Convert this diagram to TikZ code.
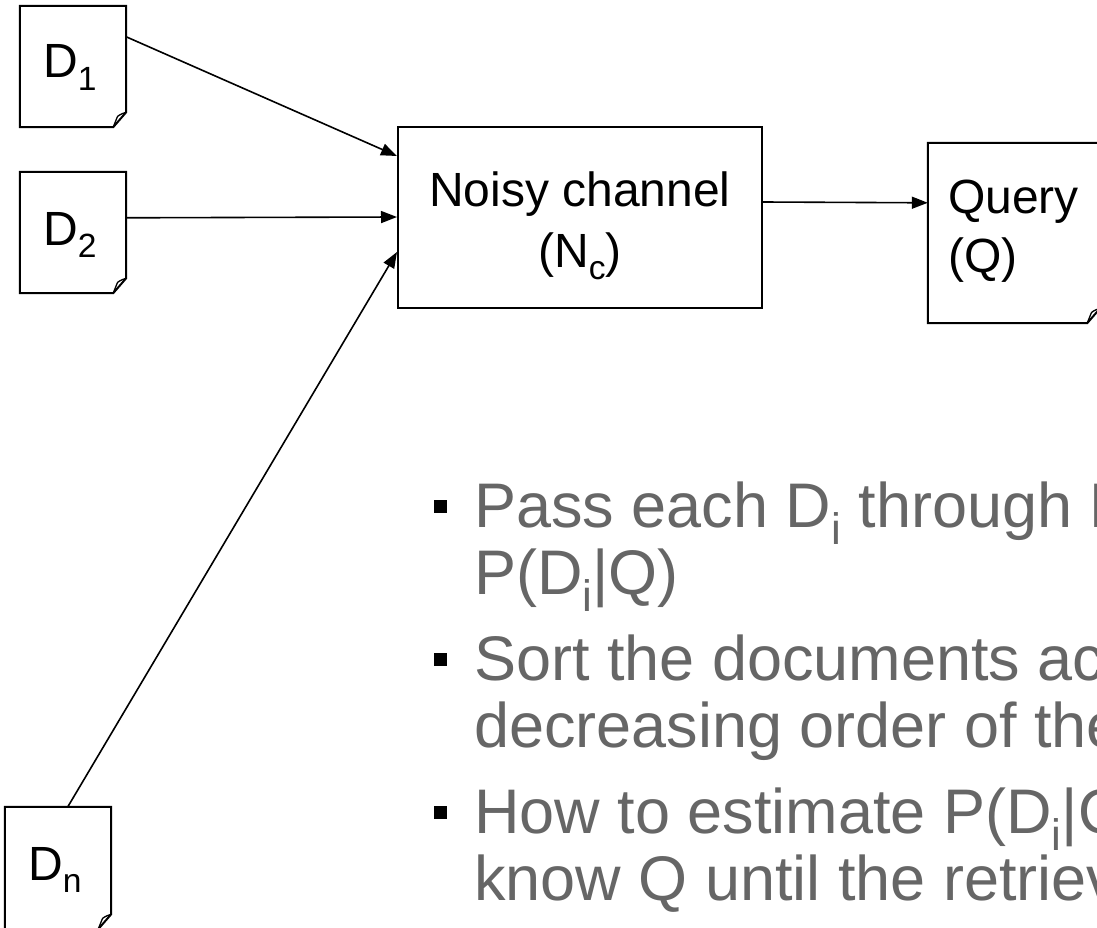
\documentclass[tikz,border=0pt]{standalone}
\usepackage{fontspec}
\setmainfont{Liberation Sans}
\usetikzlibrary{arrows.meta,calc}
\definecolor{txtgray}{RGB}{102,102,102}
% lowered, smaller index text (D_1, N_c, ...)
\newcommand{\lowidx}[1]{\raisebox{-0.27em}{\scalebox{0.7}{#1}}}
% outline of a sheet with a folded bottom-right corner, drawn round a node
\newcommand{\docoutline}[1]{%
  \draw[line width=2pt, line join=miter]
    (#1.north west) -- (#1.north east) -- ($(#1.south east)+(0,-15)$)
    -- ($(#1.south east)+(-13,0)$) -- (#1.south west) -- cycle;
  \draw[line width=1.3pt, line join=round]
    ($(#1.south east)+(0,-15)$) .. controls ($(#1.south east)+(-6,-13)$) and ($(#1.south east)+(-9,-11)$) .. ($(#1.south east)+(-9,-10)$)
    -- ($(#1.south east)+(-13,0)$);}
\begin{document}
\begin{tikzpicture}[x=1pt, y=-1pt,
  doc/.style={minimum width=106pt, minimum height=121pt, inner sep=0pt},
  lbl/.style={font=\fontsize{48}{58}\selectfont, inner sep=0pt, anchor=base west},
  clbl/.style={font=\fontsize{48}{58}\selectfont, inner sep=0pt, anchor=base},
  chan/.style={draw, line width=2pt, minimum width=364pt, minimum height=181pt, inner sep=0pt},
  link/.style={line width=1.6pt, -{Triangle[length=16pt,width=12pt]}},
  pt/.style={font=\fontsize{63}{67}\selectfont, text=txtgray, inner sep=0pt, anchor=base west},
  bul/.style={fill=black, minimum size=13pt, inner sep=0pt}]
\useasboundingbox (0,0) rectangle (1097,928);
\clip (0,0) rectangle (1097,928);
\fill[white] (0,0) rectangle (1097,928);

% documents
\node[doc] (d1) at (73,66.5) {};
\node[doc] (d2) at (73,232.5) {};
\node[doc, minimum height=122pt] (dn) at (58,868) {};
\docoutline{d1}
\docoutline{d2}
\docoutline{dn}
\node[lbl] (d1l) at (43,78) {D\lowidx{1}};
\node[lbl] (d2l) at (43,245) {D\lowidx{2}};
\node[lbl] (dnl) at (28,880) {D\lowidx{n}};

% noisy channel
\node[chan] (nc) at (580,217.5) {};
\node[clbl] (nc1) at (580,207) {Noisy channel};
\node[clbl] (nc2) at (580,267) {(N\lowidx{c})};

% query
\node[doc, minimum width=172pt, minimum height=180pt] (q) at (1014,233) {};
\docoutline{q}
\node[lbl] (q1) at (948,213) {Query};
\node[lbl] (q2) at (948,272) {(Q)};

% connectors
\draw[link] ($(d1.north east)+(0,31)$) -- ($(nc.north west)+(0,30)$);
\draw[link] ($(d2.north east)+(0,46)$) -- ($(nc.north west)+(0,91)$);
\draw[link] ($(dn.north west)+(63,0)$) -- ($(nc.north west)+(0,126)$);
\draw[link] ($(nc.north east)+(0,76)$) -- ($(q.north west)+(0,60)$);

% bullet list
\node[bul] (b1) at (440,506) {};
\node[pt] (t1a) at (474,527) {Pass each D\lowidx{i} through N};
\node[pt] (t1b) at (474,594) {P(D\lowidx{i}|Q)};
\node[bul] (b2) at (440,659) {};
\node[pt] (t2a) at (474,680) {Sort the documents ac};
\node[pt] (t2b) at (474,747) {decreasing order of the};
\node[bul] (b3) at (440,812) {};
\node[pt] (t3a) at (474,833) {How to estimate P(D\lowidx{i}|Q};
\node[pt] (t3b) at (474,900) {know Q until the retriev};
\end{tikzpicture}
\end{document}
